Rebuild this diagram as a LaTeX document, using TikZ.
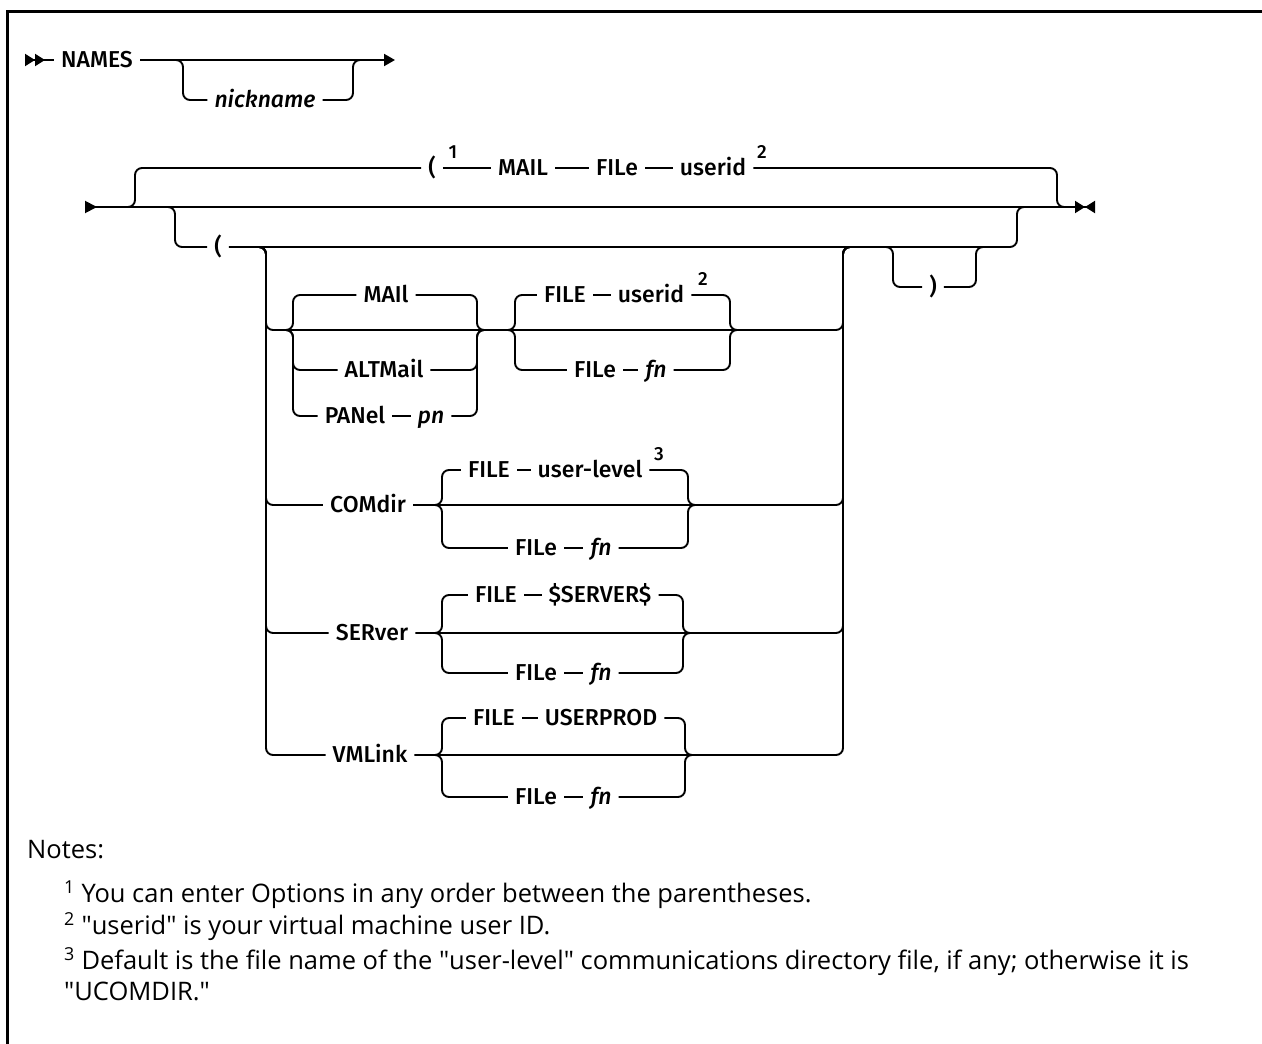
\documentclass[tikz,border=0pt]{standalone}
\usepackage{fontspec}
\setmainfont{Open Sans}
\newfontfamily\railfont{Fira Sans}[UprightFont={* Medium}, ItalicFont={* Medium Italic}]
\usetikzlibrary{positioning, calc, arrows.meta}

\begin{document}
\begin{tikzpicture}[
        x=1pt, y=-1pt,
        node distance=28pt,
        rail/.style={line width=1.9pt},
        railbend/.style={rail, rounded corners=7pt},
        kw/.style={font=\railfont\fontsize{23}{27}\selectfont, text height=15pt,
            text depth=0pt, inner xsep=7pt, inner ysep=0pt},
        var/.style={kw, font=\railfont\itshape\fontsize{23}{27}\selectfont},
        fnmark/.style={font=\railfont\fontsize{19}{21}\selectfont, inner sep=0pt},
        notetxt/.style={font=\fontsize{25.5}{31}\selectfont, anchor=west,
            align=left, inner sep=0pt}
        ]
        \useasboundingbox (0,0) rectangle (1262,1044);
        \draw[line width=3pt] (7,1044) -- (7,11) -- (1262,11);

        \coordinate (begin) at (25,60);
        \coordinate (topend) at (395,60);
        \node[kw] (names) at (97,60) {NAMES};
        \node[var] (nick) at (265,100) {nickname};
        \coordinate (n0l) at (183,60);
        \coordinate (n0r) at (353,60);
        \draw[rail, {Triangle[length=10pt,width=12pt,reversed]Triangle[length=10pt,width=12pt,reversed]}-]
        (begin) -- (names.west);
        \draw[rail, -{Triangle[length=11pt,width=12pt]}] (names.east) -- (topend);
        \draw[railbend] (nick.west) -| (n0l) -- ++(-10,0);
        \draw[railbend] (nick.east) -| (n0r) -- ++(10,0);

        \coordinate (begin2) at (85,207);
        \coordinate (end2) at (1095,207);
        \draw[rail, {Triangle[length=12pt,width=12pt,reversed]}-{Triangle[length=10pt,width=12pt]Triangle[length=10pt,width=12pt,reversed]}]
        (begin2) -- (end2);

        \node[kw] (openA) at (432,168) {(};
        \node[kw] (mailT) at (523,168) {MAIL};
        \node[kw] (fileT) at (617,168) {FILe};
        \node[kw] (useridT) at (713,168) {userid};
        \node[fnmark] (n1a) at (453,152) {1};
        \node[fnmark] (n2a) at (762,152) {2};
        \coordinate (t1l) at (135,207);
        \coordinate (t1r) at (1057,207);
        \draw[railbend] (openA.west) -| (t1l) -- ++(-10,0);
        \draw[rail] (openA.east) -- (mailT.west);
        \draw[rail] (mailT.east) -- (fileT.west);
        \draw[rail] (fileT.east) -- (useridT.west);
        \draw[railbend] (useridT.east) -| (t1r) -- ++(10,0);

        \node[kw] (openB) at (218,247) {(};
        \coordinate (b1l) at (175,207);
        \coordinate (b1r) at (1017,207);
        \draw[railbend] (openB.west) -| (b1l) -- ++(-10,0);
        \draw[railbend] (openB.east) -| (b1r) -- ++(10,0);

        \node[kw] (closeB) at (933,287) {)};
        \coordinate (c1l) at (893,247);
        \coordinate (c1r) at (976,247);
        \draw[railbend] (closeB.west) -| (c1l) -- ++(-10,0);
        \draw[railbend] (closeB.east) -| (c1r) -- ++(10,0);

        \coordinate (ol) at (257,247);
        \coordinate (or) at (852,247);
        \coordinate (row1) at (266,330);
        \coordinate (row1e) at (843,330);
        \draw[railbend] (ol) -| (row1) -- (row1e) |- (or);

        \node[kw] (maila) at (386,295) {MAIl};
        \node[kw] (altmail) at (384,370) {ALTMail};
        \node[kw] (panel) at (355,416) {PANel};
        \node[var] (pn) at (431,416) {pn};
        \coordinate (g1l) at (293,330);
        \coordinate (g1r) at (477,330);
        \foreach \o in {maila, altmail} {
            \draw[railbend] (\o.west) -| (g1l) -- ++(-9,0);
            \draw[railbend] (\o.east) -| (g1r) -- ++(9,0);
        }
        \draw[railbend] (panel.west) -| (g1l) -- ++(-9,0);
        \draw[rail] (panel.east) -- (pn.west);
        \draw[railbend] (pn.east) -| (g1r) -- ++(9,0);

        \node[kw] (fileB) at (565,295) {FILE};
        \node[kw] (useridB) at (651,295) {userid};
        \node[fnmark] (n2b) at (703,279) {2};
        \node[kw] (fileC) at (595,370) {FILe};
        \node[var] (fnC) at (656,370) {fn};
        \coordinate (g2l) at (515,330);
        \coordinate (g2r) at (730,330);
        \draw[railbend] (fileB.west) -| (g2l) -- ++(-9,0);
        \draw[rail] (fileB.east) -- (useridB.west);
        \draw[railbend] (useridB.east) -| (g2r) -- ++(9,0);
        \draw[railbend] (fileC.west) -| (g2l) -- ++(-9,0);
        \draw[rail] (fileC.east) -- (fnC.west);
        \draw[railbend] (fnC.east) -| (g2r) -- ++(9,0);

        \coordinate (row2) at (266,505);
        \coordinate (row2e) at (843,505);
        \node[kw] (comdir) at (368,505) {COMdir};
        \draw[railbend] (ol) -| (row2) -- (comdir.west);
        \draw[railbend] (comdir.east) -- (row2e) |- (or);
        \node[kw] (fileD) at (489,470) {FILE};
        \node[kw] (userlevel) at (590,470) {user-level};
        \node[fnmark] (n3) at (659,454) {3};
        \node[kw] (fileE) at (536,548) {FILe};
        \node[var] (fnE) at (601,548) {fn};
        \coordinate (g3l) at (442,505);
        \coordinate (g3r) at (688,505);
        \draw[railbend] (fileD.west) -| (g3l) -- ++(-9,0);
        \draw[rail] (fileD.east) -- (userlevel.west);
        \draw[railbend] (userlevel.east) -| (g3r) -- ++(9,0);
        \draw[railbend] (fileE.west) -| (g3l) -- ++(-9,0);
        \draw[rail] (fileE.east) -- (fnE.west);
        \draw[railbend] (fnE.east) -| (g3r) -- ++(9,0);

        \coordinate (row3) at (266,633);
        \coordinate (row3e) at (843,633);
        \node[kw] (server) at (372,633) {SERver};
        \draw[railbend] (ol) -| (row3) -- (server.west);
        \draw[railbend] (server.east) -- (row3e) |- (or);
        \node[kw] (fileF) at (496,595) {FILE};
        \node[kw] (srvname) at (600,595) {\$SERVER\$};
        \node[kw] (fileG) at (536,673) {FILe};
        \node[var] (fnG) at (601,673) {fn};
        \coordinate (g4l) at (442,633);
        \coordinate (g4r) at (683,633);
        \draw[railbend] (fileF.west) -| (g4l) -- ++(-9,0);
        \draw[rail] (fileF.east) -- (srvname.west);
        \draw[railbend] (srvname.east) -| (g4r) -- ++(9,0);
        \draw[railbend] (fileG.west) -| (g4l) -- ++(-9,0);
        \draw[rail] (fileG.east) -- (fnG.west);
        \draw[railbend] (fnG.east) -| (g4r) -- ++(9,0);

        \coordinate (row4) at (266,755);
        \coordinate (row4e) at (843,755);
        \node[kw] (vmlink) at (370,755) {VMLink};
        \draw[railbend] (ol) -| (row4) -- (vmlink.west);
        \draw[railbend] (vmlink.east) -- (row4e) |- (or);
        \node[kw] (fileH) at (494,718) {FILE};
        \node[kw] (userprod) at (601,718) {USERPROD};
        \node[kw] (fileI) at (536,797) {FILe};
        \node[var] (fnI) at (601,797) {fn};
        \coordinate (g5l) at (442,755);
        \coordinate (g5r) at (685,755);
        \draw[railbend] (fileH.west) -| (g5l) -- ++(-9,0);
        \draw[rail] (fileH.east) -- (userprod.west);
        \draw[railbend] (userprod.east) -| (g5r) -- ++(9,0);
        \draw[railbend] (fileI.west) -| (g5l) -- ++(-9,0);
        \draw[rail] (fileI.east) -- (fnI.west);
        \draw[railbend] (fnI.east) -| (g5r) -- ++(9,0);

        \node[notetxt] (notes) at (27,850) {Notes:};
        \node[notetxt] (note1) at (64,895)
        {\textsuperscript{1} You can enter Options in any order between the parentheses.};
        \node[notetxt] (note2) at (64,927)
        {\textsuperscript{2} \textquotedbl userid\textquotedbl\ is your virtual machine user ID.};
        \node[notetxt] (note3) at (64,974)
        {\textsuperscript{3} Default is the file name of the \textquotedbl user-level\textquotedbl\ communications directory file, if any; otherwise it is\\\textquotedbl UCOMDIR.\textquotedbl};
    \end{tikzpicture}
\end{document}
